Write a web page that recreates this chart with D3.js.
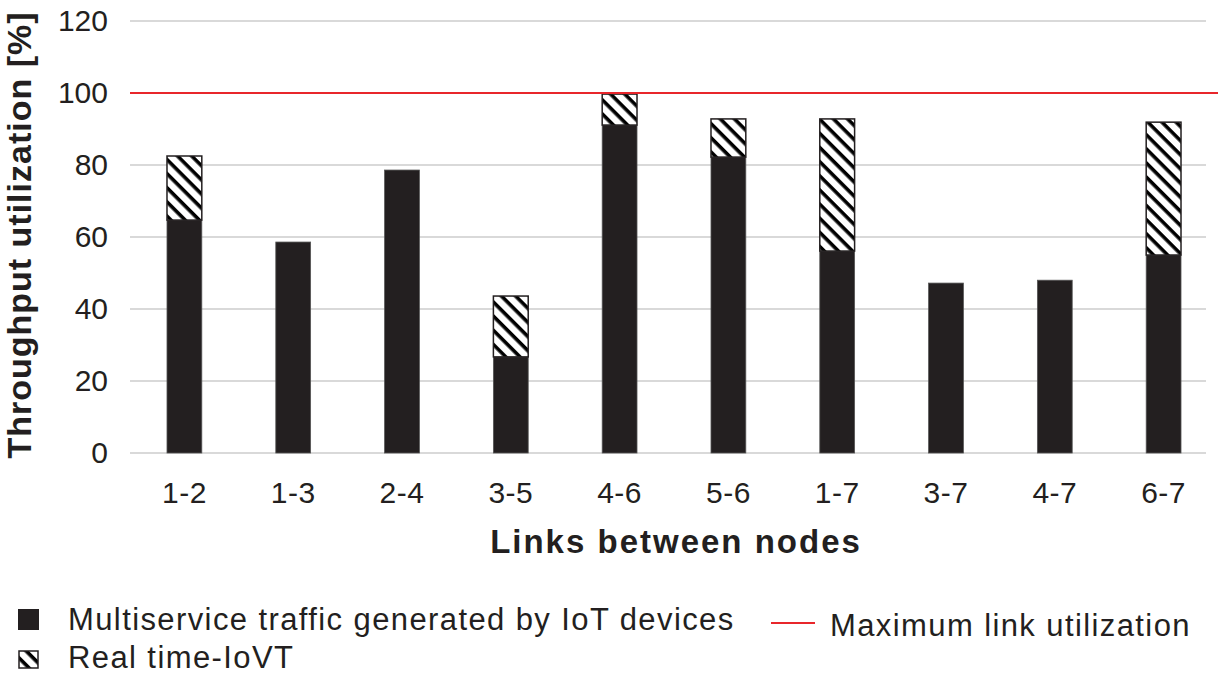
<!DOCTYPE html>
<html>
<head>
<meta charset="utf-8">
<script src="https://cdn.jsdelivr.net/npm/d3@7"></script>
<style>
  body { margin: 0; background: #fff; }
  text { font-family: "Liberation Sans", Arial, sans-serif; fill: #231f20; }
</style>
</head>
<body>
<script>
// data
var links = ["1-2", "1-3", "2-4", "3-5", "4-6", "5-6", "1-7", "3-7", "4-7", "6-7"]
var iotTraffic = [64.7, 58.6, 78.6, 26.7, 91.1, 82.2, 56.1, 47.2, 48.0, 55.0]
var realTime = [17.8, 0, 0, 16.9, 8.6, 10.6, 36.7, 0, 0, 36.9]
var maxUtil = 100
var yTicks = [0, 20, 40, 60, 80, 100, 120]

var W = 1220, H = 680
var margin = {top: 21, right: 2, bottom: 227, left: 130}
var width = W - margin.left - margin.right,
    height = H - margin.top - margin.bottom

var svg = d3.select("body").append("svg")
    .attr("width", W)
    .attr("height", H)

// hatch pattern for the real time part
var defs = svg.append("defs")
var pat = defs.append("pattern")
    .attr("id", "hatch")
    .attr("patternUnits", "userSpaceOnUse")
    .attr("width", 10)
    .attr("height", 10)
    .attr("patternTransform", "rotate(45)")
pat.append("rect").attr("width", 10).attr("height", 10).attr("fill", "#fff")
pat.append("rect").attr("width", 10).attr("height", 3.6).attr("fill", "#000")

var chart = svg.append("g")
    .attr("transform", "translate(" + margin.left + "," + margin.top + ")")

var xScale = d3.scaleBand().domain(links).range([0, width]).paddingInner(0.68).paddingOuter(0.34)
var yScale = d3.scaleLinear().domain([0, 120]).range([height, 0])

// grid
chart.selectAll(".grid")
  .data(yTicks)
  .enter().append("line")
    .attr("x1", 0).attr("x2", width - 12)
    .attr("y1", function(d) { return yScale(d) })
    .attr("y2", function(d) { return yScale(d) })
    .attr("stroke", "#d9d9d9")
    .attr("stroke-width", 2)

// y axis labels
var yAxis = chart.append("g")
    .call(d3.axisLeft(yScale).tickValues(yTicks).tickSize(0).tickPadding(22))
yAxis.select(".domain").remove()
yAxis.selectAll("text")
    .style("font-size", "30px")
    .attr("fill", "#231f20")

// x axis labels
var xAxis = chart.append("g")
    .attr("transform", "translate(0," + height + ")")
    .call(d3.axisBottom(xScale).tickSize(0).tickPadding(29))
xAxis.select(".domain").remove()
xAxis.selectAll("text")
    .style("font-size", "30px")
    .style("letter-spacing", "0.5px")
    .attr("fill", "#231f20")

// bars
var bw = xScale.bandwidth()
chart.selectAll(".bar")
  .data(links)
  .enter().append("rect")
    .attr("x", function(d) { return xScale(d) })
    .attr("y", function(d, i) { return yScale(iotTraffic[i]) })
    .attr("width", bw)
    .attr("height", function(d, i) { return height - yScale(iotTraffic[i]) })
    .attr("fill", "#231f20")
    .attr("stroke", "#555")
    .attr("stroke-width", 0.8)

chart.selectAll(".rt")
  .data(links.filter(function(d, i) { return realTime[i] > 0 }))
  .enter().append("rect")
    .attr("x", function(d) { return xScale(d) })
    .attr("y", function(d) { var i = links.indexOf(d); return yScale(iotTraffic[i] + realTime[i]) })
    .attr("width", bw)
    .attr("height", function(d) { var i = links.indexOf(d); return yScale(iotTraffic[i]) - yScale(iotTraffic[i] + realTime[i]) })
    .attr("fill", "url(#hatch)")
    .attr("stroke", "#231f20")
    .attr("stroke-width", 1.5)

// max utilization line
chart.append("line")
    .attr("x1", 0).attr("x2", width)
    .attr("y1", yScale(maxUtil)).attr("y2", yScale(maxUtil))
    .attr("stroke", "#e8262b")
    .attr("stroke-width", 2)

// axis titles
svg.append("text")
    .attr("text-anchor", "middle")
    .attr("transform", "translate(31,235)rotate(-90)")
    .style("font-size", "34px")
    .style("font-weight", "bold")
    .style("letter-spacing", "1px")
    .text("Throughput utilization [%]")

svg.append("text")
    .attr("text-anchor", "middle")
    .attr("x", 676).attr("y", 553)
    .style("font-size", "33px")
    .style("font-weight", "bold")
    .style("letter-spacing", "2px")
    .text("Links between nodes")

// legend
var leg = svg.append("g").style("font-size", "31px").style("letter-spacing", "1.4px")
leg.append("rect").attr("x", 18).attr("y", 609).attr("width", 21).attr("height", 21).attr("fill", "#231f20")
leg.append("text").attr("x", 68).attr("y", 630)
    .text("Multiservice traffic generated by IoT devices")
leg.append("rect").attr("x", 19).attr("y", 651).attr("width", 19).attr("height", 17)
    .attr("fill", "url(#hatch)").attr("stroke", "#231f20").attr("stroke-width", 1.5)
leg.append("text").attr("x", 68).attr("y", 668)
    .text("Real time-IoVT")
leg.append("line").attr("x1", 771).attr("x2", 815).attr("y1", 623).attr("y2", 623)
    .attr("stroke", "#e8262b").attr("stroke-width", 2)
leg.append("text").attr("x", 830).attr("y", 636)
    .text("Maximum link utilization")
</script>
</body>
</html>
